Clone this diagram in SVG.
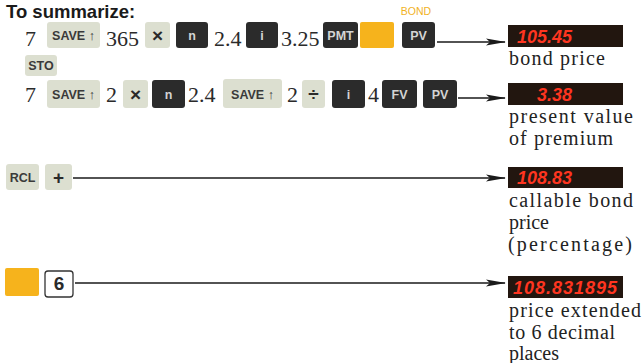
<svg xmlns="http://www.w3.org/2000/svg" width="643" height="363" viewBox="0 0 643 363">
<defs>
<marker id="ah" markerWidth="20" markerHeight="8" refX="19" refY="4" orient="auto" markerUnits="userSpaceOnUse">
<path d="M0,0.6 L20,4 L0,7.4 L4,4 Z" fill="#1a1a1a"/>
</marker>
</defs>
<style>
.kl{fill:#dcdfd0}
.kd{fill:#2b2b2b}
.ko{fill:#f6b31c}
.kw{fill:#ffffff;stroke:#333333;stroke-width:1.3}
.lt{font-family:"Liberation Sans",Arial,sans-serif;font-weight:bold;font-size:12.5px;fill:#3a3a3a;text-anchor:middle}
.ld{font-family:"Liberation Sans",Arial,sans-serif;font-weight:bold;font-size:12.5px;fill:#d4d4d4;text-anchor:middle}
.op{font-family:"Liberation Sans",Arial,sans-serif;font-weight:bold;font-size:19px;fill:#2a2a2a;text-anchor:middle}
.num{font-family:"Liberation Serif","Times New Roman",serif;font-size:22px;fill:#2a2a2a}
.disp{fill:#22160f}
.dt{font-family:"Liberation Sans",Arial,sans-serif;font-weight:bold;font-style:italic;font-size:18px;fill:#ff3520}
.desc{font-family:"Liberation Serif","Times New Roman",serif;font-size:20px;fill:#222222}
.conn{stroke:#1a1a1a;stroke-width:1.6;fill:none}
.title{font-family:"Liberation Sans",Arial,sans-serif;font-weight:bold;font-size:18.5px;fill:#1a1a1a}
</style>
<rect width="643" height="363" fill="#ffffff"/>
<text class="title" x="6" y="18">To summarize:</text>

<g id="row1">
<text class="num" x="25" y="46">7</text>
<g id="r1-save"><rect class="kl" x="47" y="22" width="53" height="26" rx="3"/><text class="lt" x="73.5" y="39.5">SAVE ↑</text></g>
<text class="num" x="106" y="46">365</text>
<g id="r1-times"><rect class="kl" x="145" y="22" width="25" height="26" rx="3"/><text class="op" x="157.5" y="41.5">×</text></g>
<g id="r1-n"><rect class="kd" x="176" y="22" width="32" height="26" rx="3"/><text class="ld" x="192" y="39.5" font-size="14">n</text></g>
<text class="num" x="214" y="46">2.4</text>
<g id="r1-i"><rect class="kd" x="246" y="22" width="32" height="26" rx="3"/><text class="ld" x="262" y="39.5" font-size="14">i</text></g>
<text class="num" x="281" y="46">3.25</text>
<g id="r1-pmt"><rect class="kd" x="323" y="22" width="35" height="26" rx="3"/><text class="ld" x="340.5" y="39.5">PMT</text></g>
<g id="r1-gold"><rect class="ko" x="360" y="22" width="34" height="26" rx="2"/></g>
<g id="r1-pv"><text x="416" y="15" font-family="'Liberation Sans',Arial,sans-serif" font-size="10.5" fill="#f1b21e" text-anchor="middle">BOND</text><rect class="kd" x="402" y="22" width="33" height="26" rx="3"/><text class="ld" x="418.5" y="39.5">PV</text></g>
</g>

<g id="row2">
<g id="r2-sto"><rect class="kl" x="25" y="55" width="32" height="21" rx="3"/><text class="lt" x="41" y="70">STO</text></g>
</g>

<g id="row3">
<text class="num" x="25" y="102">7</text>
<g id="r3-save1"><rect class="kl" x="47" y="80" width="53" height="28" rx="3"/><text class="lt" x="73.5" y="98.5">SAVE ↑</text></g>
<text class="num" x="106" y="102">2</text>
<g id="r3-times"><rect class="kl" x="123" y="80" width="25" height="28" rx="3"/><text class="op" x="135.5" y="100.5">×</text></g>
<g id="r3-n"><rect class="kd" x="152" y="80" width="33" height="28" rx="3"/><text class="ld" x="168.5" y="98.5" font-size="14">n</text></g>
<text class="num" x="188" y="102">2.4</text>
<g id="r3-save2"><rect class="kl" x="223" y="79" width="59" height="29" rx="3"/><text class="lt" x="252.5" y="98.5">SAVE ↑</text></g>
<text class="num" x="287" y="102">2</text>
<g id="r3-div"><rect class="kl" x="302" y="80" width="23" height="28" rx="3"/><text class="op" x="313.5" y="100.5" fill="#555">÷</text></g>
<g id="r3-i"><rect class="kd" x="332" y="80" width="33" height="28" rx="3"/><text class="ld" x="348.5" y="98.5" font-size="14">i</text></g>
<text class="num" x="368" y="102">4</text>
<g id="r3-fv"><rect class="kd" x="382" y="80" width="35" height="28" rx="3"/><text class="ld" x="399.5" y="98.5">FV</text></g>
<g id="r3-pv"><rect class="kd" x="423" y="80" width="34" height="28" rx="3"/><text class="ld" x="440" y="98.5">PV</text></g>
</g>

<g id="row4">
<g id="r4-rcl"><rect class="kl" x="6" y="164" width="33" height="26" rx="3"/><text class="lt" x="22.5" y="181.5">RCL</text></g>
<g id="r4-plus"><rect class="kl" x="45" y="164" width="27" height="26" rx="3"/><text class="op" x="58.5" y="183.5">+</text></g>
</g>

<g id="row5">
<g id="r5-gold"><rect class="ko" x="5" y="268" width="34" height="28" rx="2"/></g>
<g id="r5-six"><rect class="kw" x="45" y="271" width="28" height="26" rx="3"/><text class="op" x="59" y="290" font-size="15">6</text></g>
</g>

<g id="connectors">
<line class="conn" x1="437" y1="42" x2="505" y2="42" marker-end="url(#ah)"/>
<line class="conn" x1="458" y1="98" x2="505" y2="98" marker-end="url(#ah)"/>
<line class="conn" x1="73" y1="178" x2="505" y2="178" marker-end="url(#ah)"/>
<line class="conn" x1="75" y1="283" x2="505" y2="283" marker-end="url(#ah)"/>
</g>

<g id="display1">
<rect class="disp" x="508" y="25" width="115" height="22"/>
<text class="dt" x="572" y="42.5" text-anchor="end">105.45</text>
<text class="desc" x="509" y="65" textLength="96" lengthAdjust="spacing">bond price</text>
</g>
<g id="display2">
<rect class="disp" x="508" y="83" width="115" height="22"/>
<text class="dt" x="572" y="100.5" text-anchor="end">3.38</text>
<text class="desc" x="509" y="123" textLength="124" lengthAdjust="spacing">present value</text>
<text class="desc" x="509" y="145" textLength="104" lengthAdjust="spacing">of premium</text>
</g>
<g id="display3">
<rect class="disp" x="508" y="167" width="115" height="21"/>
<text class="dt" x="572" y="184" text-anchor="end">108.83</text>
<text class="desc" x="509" y="207" textLength="124" lengthAdjust="spacing">callable bond</text>
<text class="desc" x="509" y="229">price</text>
<text class="desc" x="508" y="251" textLength="124" lengthAdjust="spacing">(percentage)</text>
</g>
<g id="display4">
<rect class="disp" x="508" y="276" width="115" height="22"/>
<text class="dt" x="513" y="293.5" textLength="104" lengthAdjust="spacing">108.831895</text>
<text class="desc" x="509" y="317" textLength="132" lengthAdjust="spacing">price extended</text>
<text class="desc" x="509" y="339" textLength="106" lengthAdjust="spacing">to 6 decimal</text>
<text class="desc" x="509" y="360">places</text>
</g>
</svg>
